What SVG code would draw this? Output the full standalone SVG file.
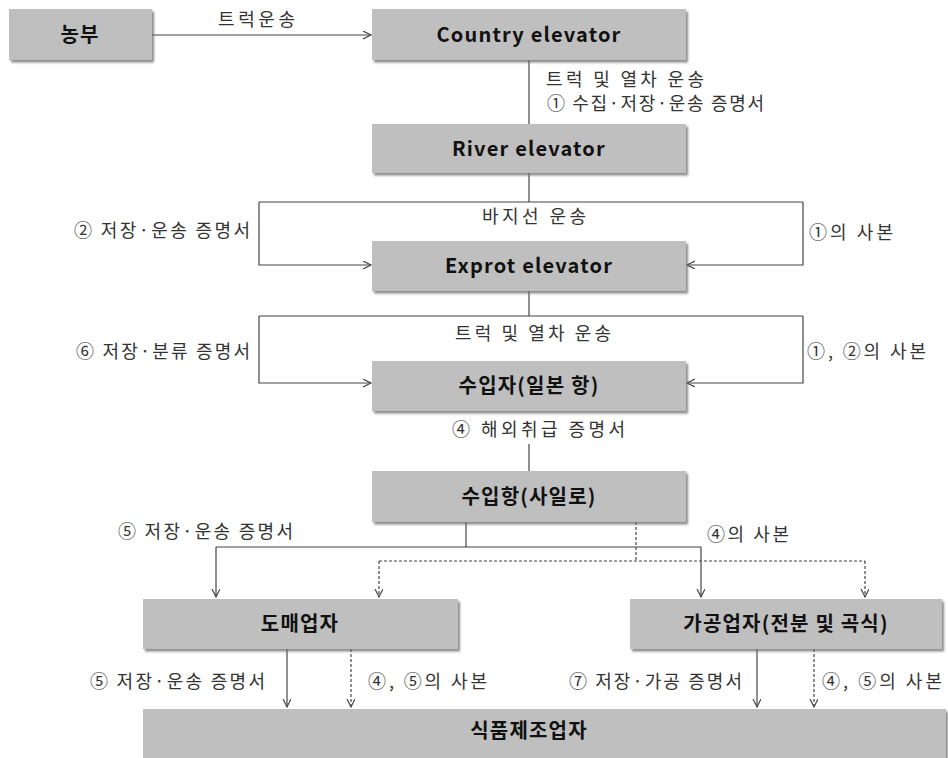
<svg xmlns="http://www.w3.org/2000/svg" width="948" height="758" viewBox="0 0 948 758">
<style>
.box{fill:#bfbfbf;filter:url(#sh)}
.nl{font-family:"Noto Sans CJK KR","Noto Sans",sans-serif;font-weight:bold;font-size:20px;fill:#111;text-anchor:middle;letter-spacing:1.2px}
.al{font-family:"Noto Sans CJK KR","Noto Sans",sans-serif;font-size:18px;fill:#333}
.ln{fill:none;stroke:#454545;stroke-width:1.2}
.ar{marker-end:url(#ah)}
.ds{stroke-dasharray:3 2}
</style>
<defs>
<filter id="sh" x="-5%" y="-10%" width="115%" height="140%">
<feDropShadow dx="2" dy="2.5" stdDeviation="1.2" flood-color="#6e6e6e" flood-opacity="0.8"/>
</filter>
<marker id="ah" markerUnits="userSpaceOnUse" markerWidth="10" markerHeight="10" refX="8" refY="4" orient="auto">
<path d="M0,0 L8,4 L0,8" fill="none" stroke="#454545" stroke-width="1.2"/>
</marker>
</defs>
<g id="connectors">
<path class="ln ar" d="M152,35 H371"/>
<path class="ln" d="M529,60 V124"/>
<path class="ln" d="M529,173 V202"/>
<path class="ln" d="M259,202 H803"/>
<path class="ln ar" d="M259,202 V265 H371"/>
<path class="ln ar" d="M803,202 V265 H687"/>
<path class="ln" d="M529,291 V316"/>
<path class="ln" d="M259,316 H803"/>
<path class="ln ar" d="M259,316 V383 H371"/>
<path class="ln ar" d="M803,316 V383 H687"/>
<path class="ln" d="M529,444 V471"/>
<path class="ln" d="M466,522 V547"/>
<path class="ln" d="M216,547 H701"/>
<path class="ln ar" d="M216,547 V597"/>
<path class="ln ar" d="M701,547 V597"/>
<path class="ln ds" d="M636,522 V561"/>
<path class="ln ds" d="M379,561 H865"/>
<path class="ln ds ar" d="M379,561 V597"/>
<path class="ln ds ar" d="M865,561 V597"/>
<path class="ln ar" d="M287,649 V707"/>
<path class="ln ds ar" d="M351,649 V707"/>
<path class="ln ar" d="M757,649 V707"/>
<path class="ln ds ar" d="M814,649 V707"/>
</g>
<g id="labels">
<text class="al" x="218" y="26" textLength="77" lengthAdjust="spacing">트럭운송</text>
<text class="al" x="546" y="86" textLength="158" lengthAdjust="spacing">트럭 및 열차 운송</text>
<text class="al" x="547" y="110" textLength="217" lengthAdjust="spacing">① 수집·저장·운송 증명서</text>
<text class="al" x="74" y="237" textLength="176" lengthAdjust="spacing">② 저장·운송 증명서</text>
<text class="al" x="482" y="223" textLength="104" lengthAdjust="spacing">바지선 운송</text>
<text class="al" x="809" y="239" textLength="84" lengthAdjust="spacing">①의 사본</text>
<text class="al" x="76" y="358" textLength="174" lengthAdjust="spacing">⑥ 저장·분류 증명서</text>
<text class="al" x="455" y="340" textLength="156" lengthAdjust="spacing">트럭 및 열차 운송</text>
<text class="al" x="807" y="358" textLength="119" lengthAdjust="spacing">①, ②의 사본</text>
<text class="al" x="452" y="436" textLength="173" lengthAdjust="spacing">④ 해외취급 증명서</text>
<text class="al" x="118" y="538" textLength="175" lengthAdjust="spacing">⑤ 저장·운송 증명서</text>
<text class="al" x="707" y="541" textLength="82" lengthAdjust="spacing">④의 사본</text>
<text class="al" x="90" y="688" textLength="175" lengthAdjust="spacing">⑤ 저장·운송 증명서</text>
<text class="al" x="368" y="688" textLength="119" lengthAdjust="spacing">④, ⑤의 사본</text>
<text class="al" x="569" y="688" textLength="173" lengthAdjust="spacing">⑦ 저장·가공 증명서</text>
<text class="al" x="822" y="688" textLength="120" lengthAdjust="spacing">④, ⑤의 사본</text>
</g>
<g id="n-farmer"><rect class="box" x="9" y="9" width="143" height="51"/><text class="nl" x="80" y="42">농부</text></g>
<g id="n-country"><rect class="box" x="372" y="9" width="314" height="51"/><text class="nl" x="529" y="42">Country elevator</text></g>
<g id="n-river"><rect class="box" x="372" y="124" width="314" height="49"/><text class="nl" x="529" y="156">River elevator</text></g>
<g id="n-export"><rect class="box" x="372" y="241" width="314" height="50"/><text class="nl" x="529" y="273">Exprot elevator</text></g>
<g id="n-importer"><rect class="box" x="372" y="361" width="314" height="50"/><text class="nl" x="529" y="393">수입자(일본 항)</text></g>
<g id="n-port"><rect class="box" x="372" y="471" width="314" height="51"/><text class="nl" x="529" y="504">수입항(사일로)</text></g>
<g id="n-wholesaler"><rect class="box" x="143" y="599" width="315" height="50"/><text class="nl" x="300" y="631">도매업자</text></g>
<g id="n-processor"><rect class="box" x="630" y="599" width="312" height="50"/><text class="nl" x="786" y="631">가공업자(전분 및 곡식)</text></g>
<g id="n-food"><rect class="box" x="143" y="709" width="803" height="56"/><text class="nl" x="529" y="738">식품제조업자</text></g>
</svg>
